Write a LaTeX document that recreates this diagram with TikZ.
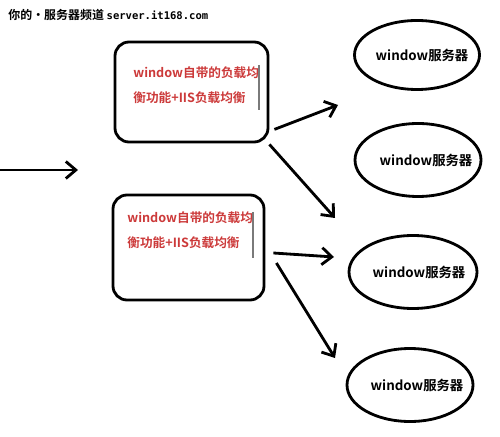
\documentclass[tikz,border=0pt]{standalone}
\usepackage{fontspec}
\setmainfont{Noto Sans CJK SC}[BoldFont={Noto Sans CJK SC Bold}]
\newfontfamily\urlfont{DejaVu Sans Mono}
\usetikzlibrary{arrows.meta,shapes.geometric}

\definecolor{Clbred}{HTML}{CC3A3A}
\definecolor{Ccursor}{HTML}{7A7A7A}

\tikzset{
  lbbox/.style={draw,line width=1.6pt,rounded corners=0.28cm,minimum width=3.06cm,minimum height=2cm,inner sep=0},
  lbtxt/.style={anchor=west,inner sep=0,text=Clbred,font=\fontsize{7.2}{9}\selectfont\bfseries},
  server/.style={draw,ellipse,line width=1.6pt,minimum width=2.5cm,minimum height=1.46cm,inner sep=0},
  srvtxt/.style={inner sep=0,font=\fontsize{7.6}{9}\selectfont\bfseries},
  flow/.style={line width=1.6pt,-{Straight Barb[length=2mm,width=3.4mm]}},
}

\begin{document}
\begin{tikzpicture}
  \useasboundingbox (0,0) rectangle (10,8.72);
  % header
  \node[anchor=west,inner sep=0,font=\fontsize{6.8}{8}\selectfont\bfseries] (head) at (0.16,8.42)
    {你的·服务器频道 {\urlfont\fontsize{6}{8}\selectfont server.it168.com}};

  % load balancing boxes
  \node[lbbox] (box1) at (3.83,6.88) {};
  \node[lbtxt] (box1a) at (2.66,7.26) {window自带的负载均};
  \node[lbtxt] (box1b) at (2.66,6.76) {衡功能+IIS负载均衡};
  \draw[Ccursor,line width=0.8pt] (5.18,7.42) -- (5.18,6.52);

  \node[lbbox,minimum width=3.02cm,minimum height=2.1cm] (box2) at (3.77,3.77) {};
  \node[lbtxt] (box2a) at (2.54,4.36) {window自带的负载均};
  \node[lbtxt] (box2b) at (2.54,3.86) {衡功能+IIS负载均衡};
  \draw[Ccursor,line width=0.8pt] (5.06,4.48) -- (5.06,3.56);

  % servers
  \node[server,minimum height=1.38cm] (srv1) at (8.34,7.62) {};
  \node[srvtxt] (srv1t) at ([xshift=1mm]srv1) {window服务器};
  \node[server,minimum width=2.52cm] (srv2) at (8.36,5.52) {};
  \node[srvtxt] (srv2t) at ([xshift=1.6mm]srv2) {window服务器};
  \node[server,minimum width=2.56cm] (srv3) at (8.26,3.28) {};
  \node[srvtxt] (srv3t) at ([xshift=1.2mm]srv3) {window服务器};
  \node[server,minimum width=2.52cm] (srv4) at (8.20,1.02) {};
  \node[srvtxt] (srv4t) at ([xshift=1.4mm]srv4) {window服务器};

  % arrow ends
  \coordinate (src) at (0,5.32);
  \coordinate (srcend) at (1.56,5.32);
  \coordinate (a1s) at ([shift={(0.1,0.28)}]box1.south east);
  \coordinate (a1e) at (6.76,6.62);
  \coordinate (a2s) at ([shift={(0,-0.02)}]box1.south east);
  \coordinate (a2e) at (6.70,4.36);
  \coordinate (a3s) at ([shift={(0.16,-0.11)}]box2.east);
  \coordinate (a3e) at (6.68,3.58);
  \coordinate (a4s) at ([shift={(0.22,-0.31)}]box2.east);
  \coordinate (a4e) at (6.70,1.56);

  \draw[flow] (src) -- (srcend);
  \draw[flow] (a1s) -- (a1e);
  \draw[flow] (a2s) -- (a2e);
  \draw[flow] (a3s) -- (a3e);
  \draw[flow] (a4s) -- (a4e);
\end{tikzpicture}
\end{document}
